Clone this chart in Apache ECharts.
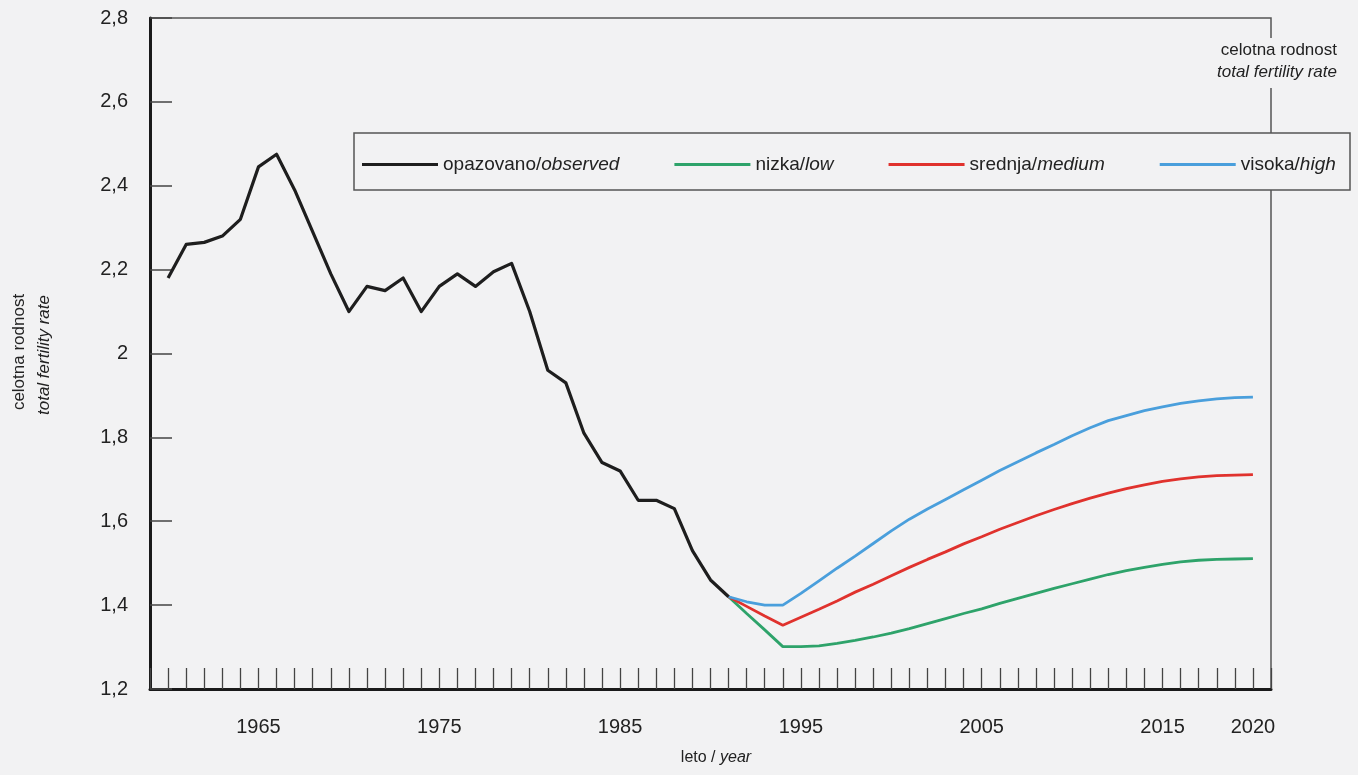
<!DOCTYPE html>
<html>
<head>
<meta charset="utf-8">
<script src="https://cdn.jsdelivr.net/npm/echarts@6/dist/echarts.min.js"></script>
<style>
    html, body { margin: 0; padding: 0; background: #f2f2f3; }
    #chart { width: 1358px; height: 775px; }
</style>
</head>
<body>
<div id="chart"></div>
<script>
// observed total fertility rate, 1960-1991
const observedYears = [
    1960, 1961, 1962, 1963, 1964, 1965, 1966, 1967, 1968, 1969,
    1970, 1971, 1972, 1973, 1974, 1975, 1976, 1977, 1978, 1979,
    1980, 1981, 1982, 1983, 1984, 1985, 1986, 1987, 1988, 1989,
    1990, 1991
];
const observed = [
    2.18, 2.26, 2.265, 2.28, 2.32, 2.445, 2.475, 2.39, 2.29, 2.19,
    2.10, 2.16, 2.15, 2.18, 2.10, 2.16, 2.19, 2.16, 2.195, 2.215,
    2.10, 1.96, 1.93, 1.81, 1.74, 1.72, 1.65, 1.65, 1.63, 1.53,
    1.46, 1.42
];

// projection variants, 1991-2020
const projYears = [
    1991, 1992, 1993, 1994, 1995, 1996, 1997, 1998, 1999, 2000,
    2001, 2002, 2003, 2004, 2005, 2006, 2007, 2008, 2009, 2010,
    2011, 2012, 2013, 2014, 2015, 2016, 2017, 2018, 2019, 2020
];
const low = [
    1.42, 1.38, 1.341, 1.301, 1.301, 1.303, 1.309, 1.316, 1.324, 1.333,
    1.344, 1.356, 1.368, 1.38, 1.391, 1.404, 1.416, 1.428, 1.44, 1.451,
    1.462, 1.473, 1.482, 1.49, 1.497, 1.503, 1.507, 1.509, 1.51, 1.511
];
const medium = [
    1.42, 1.397, 1.374, 1.352, 1.371, 1.39, 1.41, 1.431, 1.45, 1.47,
    1.49, 1.509, 1.527, 1.546, 1.563, 1.581, 1.597, 1.613, 1.628, 1.642,
    1.655, 1.667, 1.678, 1.687, 1.695, 1.701, 1.706, 1.709, 1.71, 1.711
];
const high = [
    1.42, 1.408, 1.40, 1.40, 1.428, 1.458, 1.488, 1.517, 1.547, 1.577,
    1.605, 1.629, 1.652, 1.675, 1.698, 1.721, 1.742, 1.763, 1.783, 1.804,
    1.823, 1.84, 1.852, 1.864, 1.873, 1.881, 1.887, 1.892, 1.895, 1.896
];

const yearLabels = [1965, 1975, 1985, 1995, 2005, 2015, 2020];
const seriesNames = ['opazovano/observed', 'nizka/low', 'srednja/medium', 'visoka/high'];
const colors = ['#1e1e1e', '#2ea36a', '#e0322d', '#4a9fdc'];

const BG = '#f2f2f3';
const FONT = '"Liberation Sans", Arial, Helvetica, sans-serif';

function pairs(xs, ys) {
    return xs.map((x, i) => [x, ys[i]]);
}

const chart = echarts.init(document.getElementById('chart'), null, { renderer: 'canvas' });

const option = {
    backgroundColor: BG,
    animation: false,
    grid: {
        left: 150, right: 87, top: 18, bottom: 86,
        show: true,
        borderColor: '#555',
        borderWidth: 1.5,
        backgroundColor: 'transparent'
    },
    legend: {
        left: 357,
        top: 150,
        z: 10,
        itemWidth: 76,
        itemHeight: 3,
        itemGap: 55,
        icon: 'rect',
        data: seriesNames,
        formatter: function (name) {
            const parts = name.split('/');
            return '{n|' + parts[0] + '/}{i|' + parts[1] + '}';
        },
        textStyle: {
            fontFamily: FONT,
            fontSize: 19,
            color: '#222',
            rich: {
                n: { fontFamily: FONT, fontSize: 19, color: '#222' },
                i: { fontFamily: FONT, fontSize: 19, color: '#222', fontStyle: 'italic' }
            }
        }
    },
    xAxis: {
        type: 'value',
        min: 1959,
        max: 2021,
        interval: 1,
        splitLine: { show: false },
        axisLine: { lineStyle: { color: '#1a1a1a', width: 3 } },
        axisTick: { inside: true, length: 21, lineStyle: { color: '#444', width: 1.3 } },
        axisLabel: {
            margin: 28,
            fontFamily: FONT,
            fontSize: 20,
            color: '#222',
            formatter: function (v) {
                return yearLabels.indexOf(v) >= 0 ? String(v) : '';
            }
        }
    },
    yAxis: {
        type: 'value',
        min: 1.2,
        max: 2.8,
        interval: 0.2,
        splitLine: { show: false },
        axisLine: { lineStyle: { color: '#1a1a1a', width: 3 } },
        axisTick: { inside: true, length: 22, lineStyle: { color: '#444', width: 1.5 } },
        axisLabel: {
            margin: 22,
            fontFamily: FONT,
            fontSize: 20,
            color: '#222',
            formatter: function (v) {
                return String(Math.round(v * 10) / 10).replace('.', ',');
            }
        }
    },
    graphic: [
        // legend box
        {
            type: 'rect', z: 5,
            shape: { x: 354, y: 133, width: 996, height: 57 },
            style: { fill: BG, stroke: '#555', lineWidth: 1.5 }
        },
        // gap in the right border behind the unit label
        {
            type: 'rect', z: 5,
            shape: { x: 1226, y: 38, width: 120, height: 50 },
            style: { fill: BG }
        },
        {
            type: 'text', z: 6, x: 1337, y: 50,
            style: { text: 'celotna rodnost', font: '17px ' + FONT, fill: '#222', textAlign: 'right', textVerticalAlign: 'middle' }
        },
        {
            type: 'text', z: 6, x: 1337, y: 72,
            style: { text: 'total fertility rate', font: 'italic 17px ' + FONT, fill: '#222', textAlign: 'right', textVerticalAlign: 'middle' }
        },
        // y axis title
        {
            type: 'text', z: 6, x: 19, y: 352, rotation: Math.PI / 2,
            style: { text: 'celotna rodnost', font: '17px ' + FONT, fill: '#222', textAlign: 'center', textVerticalAlign: 'middle' }
        },
        {
            type: 'text', z: 6, x: 44, y: 355, rotation: Math.PI / 2,
            style: { text: 'total fertility rate', font: 'italic 17px ' + FONT, fill: '#222', textAlign: 'center', textVerticalAlign: 'middle' }
        },
        // x axis title
        {
            type: 'text', z: 6, x: 716, y: 758,
            style: {
                text: '{n|leto / }{i|year}',
                textAlign: 'center', textVerticalAlign: 'middle',
                rich: {
                    n: { font: '16px ' + FONT, fill: '#222' },
                    i: { font: 'italic 16px ' + FONT, fill: '#222' }
                }
            }
        }
    ],
    series: [
        {
            name: seriesNames[1], type: 'line', symbol: 'none', z: 3,
            data: pairs(projYears, low),
            lineStyle: { color: colors[1], width: 2.8 }, itemStyle: { color: colors[1] }
        },
        {
            name: seriesNames[2], type: 'line', symbol: 'none', z: 3,
            data: pairs(projYears, medium),
            lineStyle: { color: colors[2], width: 2.8 }, itemStyle: { color: colors[2] }
        },
        {
            name: seriesNames[3], type: 'line', symbol: 'none', z: 3,
            data: pairs(projYears, high),
            lineStyle: { color: colors[3], width: 2.8 }, itemStyle: { color: colors[3] }
        },
        {
            name: seriesNames[0], type: 'line', symbol: 'none', z: 4,
            data: pairs(observedYears, observed),
            lineStyle: { color: colors[0], width: 3.2, join: 'round' }, itemStyle: { color: colors[0] }
        }
    ]
};

chart.setOption(option);
</script>
</body>
</html>
